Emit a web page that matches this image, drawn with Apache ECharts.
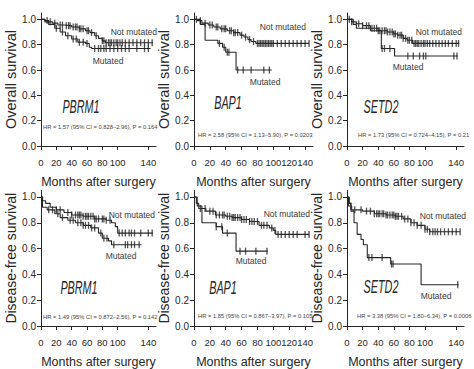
<!DOCTYPE html>
<html>
<head>
<meta charset="utf-8">
<script src="https://cdn.jsdelivr.net/npm/echarts@6/dist/echarts.min.js"></script>
<style>
  html, body { margin: 0; padding: 0; background: #fff; }
  #chart { width: 474px; height: 369px; }
</style>
</head>
<body>
<div id="chart"></div>
<script>
// x ticks / y ticks
const monthTicks = [0, 20, 40, 60, 80, 100, 120, 140];
const survTicks = [0, 0.2, 0.4, 0.6, 0.8, 1.0];

// Kaplan-Meier steps: [month, survival from this month on]
const osPbrm1Not = [[0,1],[5,0.99],[10,0.98],[15,0.97],[22,0.955],[30,0.95],[40,0.94],[50,0.925],[58,0.91],[64,0.895],[70,0.87],[75,0.85],[80,0.83],[84,0.815],[146,0.815]];
const osPbrm1Mut = [[0,1],[5,0.98],[10,0.96],[18,0.93],[25,0.9],[32,0.87],[40,0.845],[48,0.82],[58,0.81],[63,0.78],[66,0.77],[143,0.77]];
const osBap1Not = [[0,1],[4,0.99],[10,0.97],[18,0.955],[25,0.94],[33,0.925],[42,0.91],[50,0.895],[58,0.875],[63,0.86],[68,0.84],[72,0.825],[78,0.81],[145,0.81]];
const osBap1Mut = [[0,1],[8,0.96],[14,0.835],[30,0.81],[36,0.78],[40,0.74],[53,0.6],[98,0.6]];
const osSetd2Not = [[0,1],[6,0.98],[12,0.965],[20,0.95],[30,0.93],[40,0.91],[52,0.9],[60,0.885],[65,0.875],[72,0.85],[77,0.835],[84,0.81],[144,0.81]];
const osSetd2Mut = [[0,1],[8,0.96],[12,0.93],[30,0.91],[44,0.77],[61,0.71],[142,0.71]];
const dfsPbrm1Not = [[0,1],[2,0.97],[6,0.95],[12,0.92],[20,0.9],[30,0.88],[40,0.86],[55,0.85],[70,0.83],[85,0.82],[92,0.8],[97,0.77],[100,0.72],[146,0.72]];
const dfsPbrm1Mut = [[0,1],[2,0.92],[8,0.9],[18,0.87],[25,0.84],[35,0.82],[45,0.8],[55,0.78],[65,0.76],[75,0.72],[80,0.68],[88,0.66],[92,0.63],[131,0.63]];
const dfsBap1Not = [[0,1],[3,0.95],[6,0.91],[15,0.89],[27,0.86],[40,0.85],[48,0.84],[60,0.825],[70,0.81],[82,0.78],[95,0.76],[100,0.74],[103,0.71],[145,0.71]];
const dfsBap1Mut = [[0,1],[4,0.93],[10,0.8],[28,0.77],[36,0.72],[53,0.58],[93,0.58]];
const dfsSetd2Not = [[0,1],[2,0.93],[6,0.9],[20,0.89],[35,0.87],[50,0.86],[62,0.85],[72,0.83],[82,0.8],[90,0.78],[100,0.75],[106,0.73],[145,0.73]];
const dfsSetd2Mut = [[0,1],[3,0.95],[5,0.89],[9,0.8],[13,0.71],[18,0.67],[21,0.63],[26,0.53],[56,0.48],[95,0.32],[143,0.32]];

// censored months (tick marks on the curves)
const osPbrm1NotCens = [8,12,18,25,28,33,36,38,42,45,47,50,52,55,60,62,66,72,80,82,85,88,90,92,95,98,100,103,106,110,115,120,125,130,135,140,145];
const osPbrm1MutCens = [20,28,35,42,46,50,55,60,70,75,78,82,85,90,95,100,105,110,115,125,135,140];
const osBap1NotCens = [3,8,14,20,23,28,30,35,38,40,45,47,50,52,55,60,65,70,75,80,82,84,86,88,90,92,94,96,98,100,105,110,115,120,125,130,135,140,145];
const osBap1MutCens = [32,38,42,44,55,62,72,88,95];
const osSetd2NotCens = [3,6,15,20,25,28,32,35,38,40,42,45,48,50,52,55,58,60,62,65,68,70,72,75,78,80,83,86,88,90,92,95,98,100,103,106,110,114,118,122,126,130,135,140,143];
const osSetd2MutCens = [45,48,55,78,85,93,98,101,137,141];
const dfsPbrm1NotCens = [20,25,35,40,45,48,50,52,55,58,60,62,65,68,70,72,75,80,82,85,90,102,106,110,115,118,122,130,140,145];
const dfsPbrm1MutCens = [10,15,22,28,38,42,48,52,55,58,62,66,70,78,82,86,95,110,113,118,122,128];
const dfsBap1NotCens = [8,14,20,24,28,32,36,38,42,45,48,50,52,55,58,60,63,66,70,73,76,80,85,88,92,98,102,106,110,115,120,125,130,140,145];
const dfsBap1MutCens = [28,35,42,58,65,78,92];
const dfsSetd2NotCens = [5,10,18,25,30,35,38,40,42,45,47,50,52,55,58,60,62,64,66,70,74,78,82,86,90,95,100,103,106,110,113,116,120,125,130,135,140,145];
const dfsSetd2MutCens = [28,32,45,57,59,142];

const genes = ['PBRM1', 'BAP1', 'SETD2'];
const yNames = ['Overall survival', 'Disease-free survival'];
const hrTexts = [
  'HR = 1.57 (95% CI = 0.828–2.96), P = 0.164',
  'HR = 2.58 (95% CI = 1.13–5.90), P = 0.0203',
  'HR = 1.73 (95% CI = 0.724–4.15), P = 0.21',
  'HR = 1.49 (95% CI = 0.872–2.56), P = 0.142',
  'HR = 1.85 (95% CI = 0.867–3.97), P = 0.105',
  'HR = 3.38 (95% CI = 1.80–6.34), P = 0.0006'
];

const panels = [
  {not: osPbrm1Not, mut: osPbrm1Mut, notC: osPbrm1NotCens, mutC: osPbrm1MutCens},
  {not: osBap1Not, mut: osBap1Mut, notC: osBap1NotCens, mutC: osBap1MutCens},
  {not: osSetd2Not, mut: osSetd2Mut, notC: osSetd2NotCens, mutC: osSetd2MutCens},
  {not: dfsPbrm1Not, mut: dfsPbrm1Mut, notC: dfsPbrm1NotCens, mutC: dfsPbrm1MutCens},
  {not: dfsBap1Not, mut: dfsBap1Mut, notC: dfsBap1NotCens, mutC: dfsBap1MutCens},
  {not: dfsSetd2Not, mut: dfsSetd2Mut, notC: dfsSetd2NotCens, mutC: dfsSetd2MutCens}
];

// layout of the six plots
const lefts = [41, 194, 347];
const widths = [115, 119, 117];
const tops = [13, 190.5];
const heights = [133, 135.5];

// where the text annotations sit (pixels)
const notLabelPos = [[157, 32], [306, 27], [462, 32], [155, 215], [310, 214], [466, 216]];
const mutLabelPos = [[108, 61], [265, 82], [408, 67], [121, 256], [251, 261], [436, 296]];
const genePos = [[81, 107], [228, 103], [381, 107], [79, 288], [223, 288], [381, 287]];
const hrPos = [[43, 127], [198, 135], [358, 135], [43, 317], [198, 316], [357, 316]];

const FONT = '"Liberation Sans", Arial, sans-serif';
const INK = '#262626';

function survAt(steps, t) {
  let s = steps[0][1];
  for (const p of steps) {
    if (p[0] <= t) s = p[1];
  }
  return s;
}

const grid = [], xAxis = [], yAxis = [], series = [], graphic = [];

panels.forEach((p, i) => {
  const row = Math.floor(i / 3), col = i % 3;
  grid.push({left: lefts[col], top: tops[row], width: widths[col], height: heights[row]});
  xAxis.push({
    gridIndex: i, type: 'value', min: 0, max: 150,
    name: 'Months after surgery', nameLocation: 'middle', nameGap: 29,
    nameTextStyle: {fontFamily: FONT, fontSize: 12.5, color: INK},
    axisLine: {lineStyle: {color: INK, width: 1}},
    axisTick: {length: 4, customValues: monthTicks, lineStyle: {color: INK}},
    axisLabel: {customValues: monthTicks, margin: 11, fontFamily: FONT, fontSize: 9.5, color: INK,
      showMinLabel: true, showMaxLabel: true, hideOverlap: false},
    splitLine: {show: false}
  });
  yAxis.push({
    gridIndex: i, type: 'value', min: 0, max: 1.05,
    name: yNames[row], nameLocation: 'middle', nameGap: 19,
    nameTextStyle: {fontFamily: FONT, fontSize: row === 0 ? 14.5 : 14, color: INK},
    axisLine: {show: true, lineStyle: {color: INK, width: 1}},
    axisTick: {show: true, length: 4, customValues: survTicks, lineStyle: {color: INK}},
    axisLabel: {customValues: survTicks, margin: 5, fontFamily: FONT, fontSize: 10, color: INK,
      formatter: v => v.toFixed(1)},
    splitLine: {show: false}
  });
  [['Not mutated', p.not, p.notC], ['Mutated', p.mut, p.mutC]].forEach(([nm, steps, cens]) => {
    series.push({
      name: nm, type: 'line', step: 'end', xAxisIndex: i, yAxisIndex: i,
      data: steps, showSymbol: false, silent: true,
      lineStyle: {color: INK, width: 1.1}
    });
    series.push({
      name: nm + ' censored', type: 'scatter', xAxisIndex: i, yAxisIndex: i,
      data: cens.map(t => [t, survAt(steps, t)]),
      symbol: 'rect', symbolSize: [1.3, 7], silent: true,
      itemStyle: {color: INK}
    });
  });

  graphic.push({type: 'text', x: notLabelPos[i][0], y: notLabelPos[i][1],
    style: {text: 'Not mutated', font: '8.5px ' + FONT, fill: '#3a3a3a', align: 'right', verticalAlign: 'middle'}});
  graphic.push({type: 'text', x: mutLabelPos[i][0], y: mutLabelPos[i][1],
    style: {text: 'Mutated', font: '8.5px ' + FONT, fill: '#3a3a3a', align: 'center', verticalAlign: 'middle'}});
  graphic.push({type: 'text', x: genePos[i][0], y: genePos[i][1], scaleX: 0.6,
    style: {text: genes[col], font: 'italic 18px ' + FONT, fill: INK, align: 'center', verticalAlign: 'middle'}});
  graphic.push({type: 'text', x: hrPos[i][0], y: hrPos[i][1],
    style: {text: hrTexts[i], font: '5.8px ' + FONT, fill: '#444', align: 'left', verticalAlign: 'middle'}});
});

const chart = echarts.init(document.getElementById('chart'), null, {renderer: 'svg'});
chart.setOption({
  animation: false,
  backgroundColor: '#fff',
  grid, xAxis, yAxis, series, graphic
});
</script>
</body>
</html>
